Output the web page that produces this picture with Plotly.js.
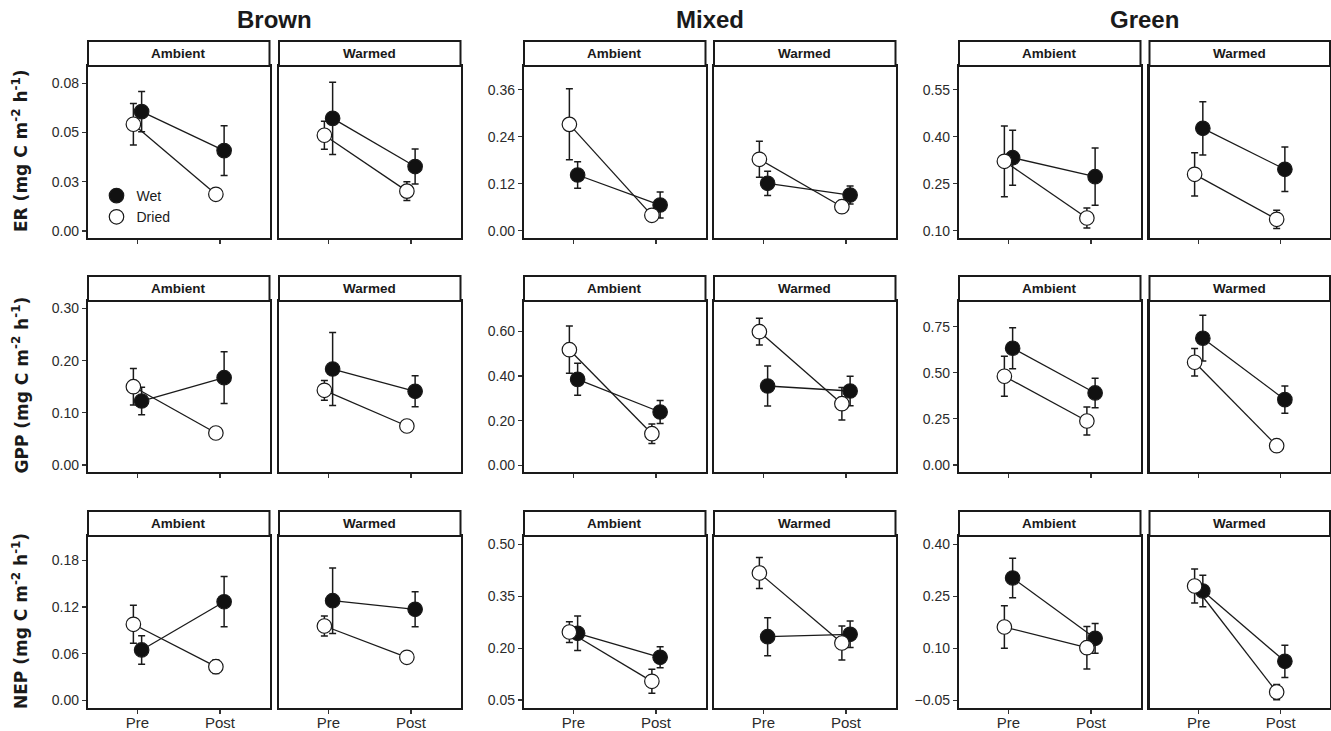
<!DOCTYPE html>
<html>
<head>
<meta charset="utf-8">
<script src="https://cdn.plot.ly/plotly-3.0.1.min.js"></script>
<style>
html,body{margin:0;padding:0;background:#fff;}
#chart{width:1331px;height:731px;}
</style>
</head>
<body>
<div id="chart"></div>
<script>
// ---------------- DATA ----------------
const groups = ['Brown', 'Mixed', 'Green'];
const treatments = ['Ambient', 'Warmed'];
const periods = ['Pre', 'Post'];
const variables = ['ER', 'GPP', 'NEP'];
const seriesNames = ['Wet', 'Dried'];

// panel order: Brown-Ambient, Brown-Warmed, Mixed-Ambient, Mixed-Warmed, Green-Ambient, Green-Warmed
// each pair: [Pre, Post]
const ER_wet = [[0.0606, 0.0408], [0.0572, 0.0327], [0.1422, 0.0656], [0.121, 0.0911], [0.333, 0.2724], [0.4268, 0.296]];
const ER_wet_se = [[0.0102, 0.0126], [0.0184, 0.0089], [0.034, 0.033], [0.031, 0.023], [0.088, 0.0915], [0.085, 0.071]];
const ER_dried = [[0.0542, 0.0186], [0.0486, 0.0202], [0.2716, 0.0393], [0.1823, 0.0613], [0.3215, 0.1405], [0.28, 0.1364]];
const ER_dried_se = [[0.0106, 0.001], [0.0071, 0.0048], [0.0906, 0.005], [0.046, 0.008], [0.113, 0.032], [0.069, 0.029]];

const GPP_wet = [[0.1226, 0.1673], [0.1839, 0.1412], [0.385, 0.2387], [0.3551, 0.3327], [0.6329, 0.3905], [0.6871, 0.3541]];
const GPP_wet_se = [[0.0265, 0.0495], [0.07, 0.0297], [0.0716, 0.0515], [0.0896, 0.0665], [0.111, 0.08], [0.124, 0.074]];
const GPP_dried = [[0.15, 0.0613], [0.1431, 0.0747], [0.5177, 0.1415], [0.5983, 0.2759], [0.481, 0.2386], [0.557, 0.1047]];
const GPP_dried_se = [[0.035, 0.006], [0.019, 0.006], [0.106, 0.044], [0.06, 0.073], [0.108, 0.076], [0.074, 0.01]];

const NEP_wet = [[0.0647, 0.1267], [0.128, 0.117], [0.2428, 0.1734], [0.233, 0.2399], [0.3028, 0.1288], [0.2653, 0.0625]];
const NEP_wet_se = [[0.0184, 0.0323], [0.042, 0.0225], [0.05, 0.0303], [0.055, 0.0385], [0.0567, 0.043], [0.0457, 0.0466]];
const NEP_dried = [[0.0977, 0.0432], [0.0955, 0.0553], [0.2465, 0.104], [0.417, 0.2147], [0.1614, 0.1017], [0.2797, -0.0261]];
const NEP_dried_se = [[0.0244, 0.0086], [0.013, 0.0067], [0.03, 0.0347], [0.045, 0.049], [0.061, 0.0615], [0.049, 0.022]];

// y tick values and labels per group (Brown, Mixed, Green)
const ER_tickvals = [[0, 0.025, 0.05, 0.075], [0, 0.12, 0.24, 0.36], [0.10, 0.25, 0.40, 0.55]];
const ER_ticktext = [['0.00', '0.03', '0.05', '0.08'], ['0.00', '0.12', '0.24', '0.36'], ['0.10', '0.25', '0.40', '0.55']];
const GPP_tickvals = [[0, 0.1, 0.2, 0.3], [0, 0.2, 0.4, 0.6], [0, 0.25, 0.5, 0.75]];
const GPP_ticktext = [['0.00', '0.10', '0.20', '0.30'], ['0.00', '0.20', '0.40', '0.60'], ['0.00', '0.25', '0.50', '0.75']];
const NEP_tickvals = [[0, 0.06, 0.12, 0.18], [0.05, 0.2, 0.35, 0.5], [-0.05, 0.1, 0.25, 0.4]];
const NEP_ticktext = [['0.00', '0.06', '0.12', '0.18'], ['0.05', '0.20', '0.35', '0.50'], ['\u22120.05', '0.10', '0.25', '0.40']];

// ---------------- LAYOUT CONSTANTS ----------------
const W = 1331, H = 731;
const colPx = [[88, 269.5], [279, 460.5], [524, 705.5], [714, 895.5], [959, 1140.5], [1149.5, 1330]];
const rowPx = [[66, 238], [301, 472], [536, 708]];
const stripH = 25;
const yRanges = [
  [[-0.0036, 0.0838], [-0.0186, 0.4205], [0.0767, 0.6257]],
  [[-0.0134, 0.3142], [-0.030, 0.7358], [-0.038, 0.889]],
  [[-0.0099, 0.2112], [0.0269, 0.524], [-0.0722, 0.4239]]
];
const dodge = 0.05;

const wetData = [ER_wet, GPP_wet, NEP_wet];
const wetSE = [ER_wet_se, GPP_wet_se, NEP_wet_se];
const driedData = [ER_dried, GPP_dried, NEP_dried];
const driedSE = [ER_dried_se, GPP_dried_se, NEP_dried_se];
const tickVals = [ER_tickvals, GPP_tickvals, NEP_tickvals];
const tickTexts = [ER_ticktext, GPP_ticktext, NEP_ticktext];

const INK = '#1a1a1a';
const TICKFONT = 'Liberation Sans, Arial, Helvetica, sans-serif';

const px2x = p => p / W;
const px2y = p => 1 - p / H;

const traces = [];
const layout = {
  width: W, height: H,
  margin: {l: 0, r: 0, t: 0, b: 0, pad: 0},
  paper_bgcolor: '#ffffff',
  plot_bgcolor: '#ffffff',
  showlegend: true,
  legend: {
    x: px2x(96.5), y: px2y(180), xanchor: 'left', yanchor: 'top',
    bgcolor: 'rgba(0,0,0,0)', borderwidth: 0,
    font: {family: TICKFONT, size: 14, color: INK},
    itemwidth: 30, tracegroupgap: 0
  },
  shapes: [],
  annotations: []
};

const xPos = periods.map((p, i) => i + 1);

for (let r = 0; r < 3; r++) {
  for (let c = 0; c < 6; c++) {
    const k = r * 6 + c + 1;
    const g = Math.floor(c / 2);
    const xa = 'x' + (k === 1 ? '' : k), ya = 'y' + (k === 1 ? '' : k);
    const xName = 'xaxis' + (k === 1 ? '' : k), yName = 'yaxis' + (k === 1 ? '' : k);
    const isLeft = (c % 2 === 0);

    layout[xName] = {
      domain: [px2x(colPx[c][0]), px2x(colPx[c][1])],
      anchor: ya,
      range: [0.4, 2.6],
      tickmode: 'array', tickvals: xPos, ticktext: periods,
      showticklabels: r === 2,
      ticklabelstandoff: -4,
      ticks: 'outside', ticklen: 4, tickwidth: 1.2, tickcolor: '#333',
      tickfont: {family: TICKFONT, size: 15, color: '#2b2b2b'},
      showline: true, mirror: true, linewidth: 2.2, linecolor: INK,
      showgrid: false, zeroline: false, fixedrange: true
    };
    layout[yName] = {
      domain: [px2y(rowPx[r][1]), px2y(rowPx[r][0])],
      anchor: xa,
      range: yRanges[r][g],
      tickmode: 'array', tickvals: tickVals[r][g], ticktext: tickTexts[r][g],
      showticklabels: isLeft,
      ticks: isLeft ? 'outside' : '', ticklen: 4, tickwidth: 1.2, tickcolor: '#333',
      tickfont: {family: TICKFONT, size: 14, color: '#2b2b2b'},
      showline: true, mirror: true, linewidth: 2.2, linecolor: INK,
      showgrid: false, zeroline: false, fixedrange: true
    };

    // strip
    layout.shapes.push({
      type: 'rect', xref: 'paper', yref: 'paper',
      x0: px2x(colPx[c][0]), x1: px2x(colPx[c][1]),
      y0: px2y(rowPx[r][0]), y1: px2y(rowPx[r][0] - stripH),
      fillcolor: '#ffffff', line: {color: INK, width: 2}
    });
    layout.annotations.push({
      xref: 'paper', yref: 'paper',
      x: px2x((colPx[c][0] + colPx[c][1]) / 2), y: px2y(rowPx[r][0] - stripH / 2),
      xanchor: 'center', yanchor: 'middle', showarrow: false,
      text: '<b>' + treatments[c % 2] + '</b>',
      font: {family: TICKFONT, size: 13.5, color: INK}
    });

    const wy = wetData[r][c], we = wetSE[r][c];
    const dy = driedData[r][c], de = driedSE[r][c];
    const wx = xPos.map(v => v + dodge), dx = xPos.map(v => v - dodge);
    const errStyle = {type: 'data', visible: true, thickness: 1.5, width: 3.5, color: INK};

    // lines + error bars (under points)
    traces.push({type: 'scatter', mode: 'lines', x: wx, y: wy, xaxis: xa, yaxis: ya,
      error_y: Object.assign({array: we}, errStyle),
      line: {color: INK, width: 1.3}, showlegend: false, hoverinfo: 'skip'});
    traces.push({type: 'scatter', mode: 'lines', x: dx, y: dy, xaxis: xa, yaxis: ya,
      error_y: Object.assign({array: de}, errStyle),
      line: {color: INK, width: 1.3}, showlegend: false, hoverinfo: 'skip'});
    // points
    traces.push({type: 'scatter', mode: 'markers', x: wx, y: wy, xaxis: xa, yaxis: ya,
      name: seriesNames[0], legendgroup: 'wet', showlegend: k === 1,
      marker: {symbol: 'circle', size: 14.5, color: '#111111', line: {color: INK, width: 1.2}}});
    traces.push({type: 'scatter', mode: 'markers', x: dx, y: dy, xaxis: xa, yaxis: ya,
      name: seriesNames[1], legendgroup: 'dried', showlegend: k === 1,
      marker: {symbol: 'circle', size: 14.5, color: '#ffffff', line: {color: INK, width: 1.2}}});
  }

  // y-axis title for row
  layout.annotations.push({
    xref: 'paper', yref: 'paper',
    x: px2x(20), y: px2y((rowPx[r][0] + rowPx[r][1]) / 2 - 1),
    xanchor: 'center', yanchor: 'middle', showarrow: false, textangle: -90,
    text: '<b>' + variables[r] + ' (mg C m<sup>-2</sup> h<sup>-1</sup>)</b>',
    font: {family: 'DejaVu Sans, Verdana, sans-serif', size: 17, color: INK}
  });
}

// column (group) titles
for (let g = 0; g < 3; g++) {
  layout.annotations.push({
    xref: 'paper', yref: 'paper',
    x: px2x((colPx[2 * g][0] + colPx[2 * g + 1][1]) / 2), y: px2y(20),
    xanchor: 'center', yanchor: 'middle', showarrow: false,
    text: '<b>' + groups[g] + '</b>',
    font: {family: TICKFONT, size: 24, color: INK}
  });
}

Plotly.newPlot('chart', traces, layout, {displayModeBar: false, staticPlot: true});
</script>
</body>
</html>
